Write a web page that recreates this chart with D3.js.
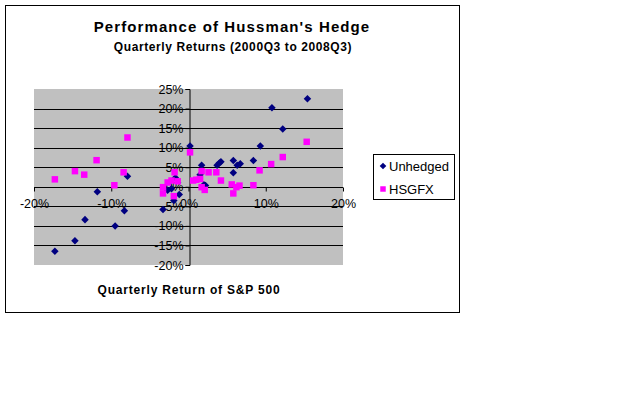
<!DOCTYPE html>
<html>
<head>
<meta charset="utf-8">
<script src="https://cdn.jsdelivr.net/npm/d3@7"></script>
<style>
  body { margin: 0; background: #fff; }
  text { font-family: Arial, "Liberation Sans", sans-serif; }
</style>
</head>
<body>
<div id="container"></div>
<script>
/* CONSTANTS AND GLOBALS */
const width = 640,
  height = 400;

// plot area in pixels (the grey box)
const plot = { left: 34, right: 343, top: 89, bottom: 265 };

/* DATA (percent values) */
const seriesNames = ["Unhedged", "HSGFX"];

// quarterly S&P 500 return vs Unhedged return
const unhedgedX = [-17.3, -14.7, -13.4, -11.8, -9.5, -8.3, -7.9, -3.3, -2.7, -2.2, -1.9, -1.7, -1.2,
  0.2, 1.5, 1.7, 2.0, 2.2, 3.7, 4.0, 4.2, 5.8, 5.8, 6.3, 6.7, 8.4, 9.3, 10.8, 12.2, 15.4];
const unhedgedY = [-16.5, -13.8, -8.4, -1.3, -10.0, -6.1, 2.7, -5.8, -0.9, -0.5, -3.5, 2.3, -2.0,
  10.4, 3.1, 5.5, 0.5, 0.3, 5.5, 6.1, 6.4, 6.7, 3.6, 5.5, 5.9, 6.7, 10.4, 20.2, 14.8, 22.5];

// quarterly S&P 500 return vs HSGFX return
const hsgfxX = [-17.3, -14.7, -13.5, -11.9, -9.6, -8.4, -7.9, -3.3, -3.3, -2.7, -2.2, -1.8, -1.9, -1.4,
  0.2, 0.6, 1.0, 1.5, 1.7, 1.7, 2.1, 2.6, 3.6, 4.2, 5.6, 5.8, 6.2, 6.6, 8.4, 9.2, 10.7, 12.2, 15.3];
const hsgfxY = [1.9, 4.0, 3.1, 6.8, 0.4, 3.7, 12.6, -0.1, -1.7, 1.1, 1.6, 3.7, -2.4, 1.4,
  8.8, 1.6, 1.8, 2.0, 4.0, -0.1, -0.8, 3.7, 3.7, 1.6, 0.6, -1.7, -0.1, 0.3, 0.4, 4.2, 5.8, 7.6, 11.5];

const xTicks = [-20, -10, 0, 10, 20];
const yTicks = [-20, -15, -10, -5, 0, 5, 10, 15, 20, 25];
const gridLines = [-15, -10, -5, 5, 10, 15, 20];

const titleText = "Performance of Hussman's Hedge";
const subtitleText = "Quarterly Returns (2000Q3 to 2008Q3)";
const xTitleText = "Quarterly Return of S&P 500";

const pct = d => d + "%";

/* SCALES */
const xScale = d3.scaleLinear().domain([-20, 20]).range([plot.left, plot.right]);
const yScale = d3.scaleLinear().domain([-20, 25]).range([plot.bottom, plot.top]);

/* SVG */
const svg = d3.select("#container")
  .append("svg")
  .attr("width", width)
  .attr("height", height);

// chart frame
svg.append("rect")
  .attr("x", 5.5).attr("y", 5.5)
  .attr("width", 454).attr("height", 307)
  .attr("fill", "#fff")
  .attr("stroke", "#000");

// titles
svg.append("text")
  .attr("x", 232).attr("y", 32)
  .attr("text-anchor", "middle")
  .attr("font-size", 15).attr("font-weight", "bold")
  .attr("letter-spacing", 1.1)
  .text(titleText);

svg.append("text")
  .attr("x", 233).attr("y", 51)
  .attr("text-anchor", "middle")
  .attr("font-size", 12).attr("font-weight", "bold")
  .attr("letter-spacing", 0.6)
  .text(subtitleText);

svg.append("text")
  .attr("x", 189).attr("y", 294)
  .attr("text-anchor", "middle")
  .attr("font-size", 12).attr("font-weight", "bold")
  .attr("letter-spacing", 0.8)
  .text(xTitleText);

// plot background
svg.append("rect")
  .attr("x", plot.left).attr("y", plot.top)
  .attr("width", plot.right - plot.left)
  .attr("height", plot.bottom - plot.top)
  .attr("fill", "#c0c0c0");

// horizontal gridlines
svg.append("g")
  .selectAll("line")
  .data(gridLines)
  .join("line")
  .attr("x1", plot.left).attr("x2", plot.right)
  .attr("y1", d => Math.round(yScale(d)) + 0.5)
  .attr("y2", d => Math.round(yScale(d)) + 0.5)
  .attr("stroke", "#000");

// y axis sits at x = 0
const yAxis = d3.axisLeft(yScale)
  .tickValues(yTicks)
  .tickFormat(pct)
  .tickSize(4)
  .tickPadding(2);

const yAxisGroup = svg.append("g")
  .attr("transform", `translate(${Math.round(xScale(0)) + 0.5}, 0)`)
  .call(yAxis);

// x axis sits at y = 0
const xAxis = d3.axisBottom(xScale)
  .tickValues(xTicks)
  .tickFormat(pct)
  .tickSize(4)
  .tickPadding(8);

const xAxisGroup = svg.append("g")
  .attr("transform", `translate(0, ${Math.round(yScale(0)) + 0.5})`)
  .call(xAxis);

[yAxisGroup, xAxisGroup].forEach(g => {
  g.selectAll("path, line").attr("stroke", "#000");
  g.selectAll("text")
    .attr("fill", "#000")
    .attr("font-size", 12.5)
    .attr("font-family", "Arial, 'Liberation Sans', sans-serif");
});
xAxisGroup.select(".domain").attr("d", `M${plot.left},0H${plot.right}`);

// markers
const diamond = d3.symbol().type(d3.symbolDiamond2).size(36);
const square = d3.symbol().type(d3.symbolSquare).size(42);

const unhedged = unhedgedX.map((x, i) => ({ x, y: unhedgedY[i] }));
const hsgfx = hsgfxX.map((x, i) => ({ x, y: hsgfxY[i] }));

svg.append("g")
  .selectAll("path")
  .data(unhedged)
  .join("path")
  .attr("d", diamond)
  .attr("transform", d => `translate(${xScale(d.x)}, ${yScale(d.y)})`)
  .attr("fill", "#000080");

svg.append("g")
  .selectAll("path")
  .data(hsgfx)
  .join("path")
  .attr("d", square)
  .attr("transform", d => `translate(${xScale(d.x)}, ${yScale(d.y)})`)
  .attr("fill", "#ff00ff");

// legend
const legend = svg.append("g");
legend.append("rect")
  .attr("x", 373.5).attr("y", 154.5)
  .attr("width", 81).attr("height", 45)
  .attr("fill", "#fff")
  .attr("stroke", "#000");

const legendItems = legend.selectAll("g")
  .data(seriesNames)
  .join("g")
  .attr("transform", (d, i) => `translate(383, ${166 + i * 23})`);

legendItems.append("path")
  .attr("d", (d, i) => i === 0 ? d3.symbol().type(d3.symbolDiamond2).size(28)() : d3.symbol().type(d3.symbolSquare).size(30)())
  .attr("fill", (d, i) => i === 0 ? "#000080" : "#ff00ff");

legendItems.append("text")
  .attr("x", 6).attr("y", 5)
  .attr("font-size", 13)
  .text(d => d);
</script>
</body>
</html>
